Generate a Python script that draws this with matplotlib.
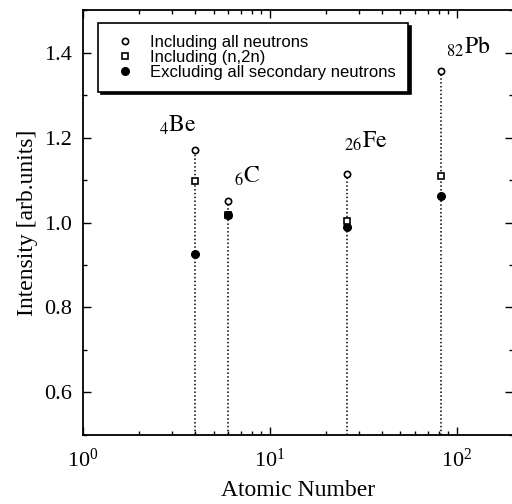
import matplotlib
matplotlib.use("Agg")
import matplotlib.pyplot as plt
from matplotlib.ticker import LogLocator, MultipleLocator, LogFormatterMathtext, NullFormatter

plt.rcParams['font.family'] = ['Liberation Serif', 'DejaVu Serif']
plt.rcParams['mathtext.fontset'] = 'stix'

# Target elements and their atomic numbers
elements = ["Be", "C", "Fe", "Pb"]
atomic_number = [4, 6, 26, 82]

# Relative intensities for the three neutron treatments
all_neutrons = [1.171, 1.050, 1.115, 1.356]
incl_n2n = [1.098, 1.018, 1.003, 1.110]
excl_secondary = [0.927, 1.018, 0.990, 1.062]

# Label anchors (x, y) in data units for each element symbol
label_pos = [(2.55, 1.213), (6.45, 1.093), (25.0, 1.175), (88.0, 1.398)]

fig = plt.figure(figsize=(5.12, 5.04), dpi=100)
ax = fig.add_axes([0.162, 0.137, 0.840, 0.843])

ax.set_xscale('log')
ax.set_xlim(1, 200)
ax.set_ylim(0.5, 1.5)

ax.vlines(atomic_number, 0.5, all_neutrons, colors='k', linestyles=(0, (1, 1.5)), lw=1.1, zorder=1)

ax.plot(atomic_number, excl_secondary, ls='none', marker='o', ms=5.5, mfc='k', mec='k',
        label='Excluding all secondary neutrons', zorder=3)
ax.plot(atomic_number, incl_n2n, ls='none', marker='s', ms=4.5, mfc='white', mec='k', mew=1.2,
        label='Including (n,2n)', zorder=4)
ax.plot(atomic_number, all_neutrons, ls='none', marker='o', ms=4.5, mfc='white', mec='k', mew=1.2,
        label='Including all neutrons', zorder=4)
# the carbon (n,2n) point is hidden beneath the filled marker
ax.plot([atomic_number[1]], [incl_n2n[1]], ls='none', marker='s', ms=5, mfc='k', mec='k', zorder=5)

for (x, y), sym, z in zip(label_pos, elements, atomic_number):
    ax.text(x, y, r'$_{%d}\mathrm{%s}$' % (z, sym), fontsize=17, ha='left', va='baseline')

ax.set_yticks([0.6, 0.8, 1.0, 1.2, 1.4])
ax.set_yticklabels(['0.6', '0.8', '1.0', '1.2', '1.4'])
ax.yaxis.set_minor_locator(MultipleLocator(0.1))
ax.xaxis.set_major_locator(LogLocator(base=10))
ax.xaxis.set_minor_locator(LogLocator(base=10, subs=range(2, 10)))
ax.xaxis.set_major_formatter(LogFormatterMathtext())
ax.xaxis.set_minor_formatter(NullFormatter())

ax.tick_params(which='both', direction='in', top=True, right=True, labelsize=16, width=1)
ax.tick_params(which='major', length=6, pad=8)
ax.tick_params(axis='x', which='major', pad=10)
ax.tick_params(which='minor', length=3)
for s in ax.spines.values():
    s.set_linewidth(1.3)

ax.set_xlabel('Atomic Number', fontsize=17, labelpad=6)
ax.set_ylabel('Intensity [arb.units]', fontsize=17, labelpad=4)

h, l = ax.get_legend_handles_labels()
order = [2, 1, 0]
leg = ax.legend([h[i] for i in order], [l[i] for i in order], loc='upper left',
                bbox_to_anchor=(0.035, 0.969), borderaxespad=0, fancybox=False,
                edgecolor='k', framealpha=1, shadow={'color': 'k', 'alpha': 1},
                prop={'family': 'Liberation Sans', 'size': 12}, handlelength=1.9,
                handletextpad=0.55, labelspacing=0.0, borderpad=0.7)
leg.get_frame().set_linewidth(1.2)

fig.savefig('out.png', dpi=100)
